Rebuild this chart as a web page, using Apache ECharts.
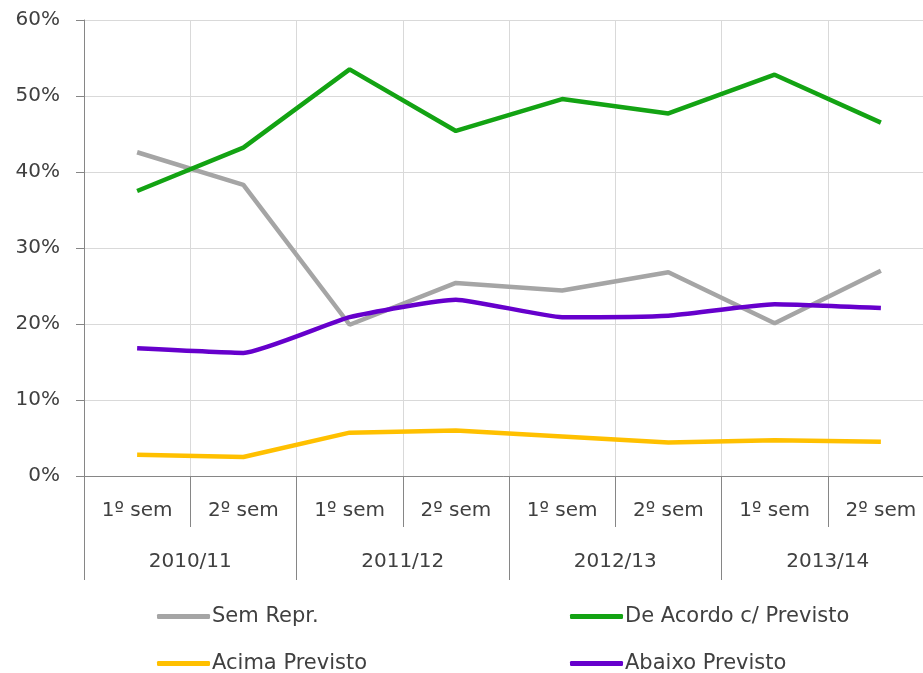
<!DOCTYPE html>
<html>
<head>
<meta charset="utf-8">
<script src="https://cdn.jsdelivr.net/npm/echarts@6/dist/echarts.min.js"></script>
<style>
  html, body { margin: 0; padding: 0; background: #fff; }
  #chart { width: 923px; height: 673px; }
</style>
</head>
<body>
<div id="chart"></div>
<script>
// categories
const semesters = ['1º sem', '2º sem', '1º sem', '2º sem', '1º sem', '2º sem', '1º sem', '2º sem']
const years = ['2010/11', '2011/12', '2012/13', '2013/14']

// values in %
const semRepr = [42.6, 38.3, 19.9, 25.4, 24.4, 26.8, 20.1, 27.0]
const deAcordo = [37.5, 43.2, 53.5, 45.4, 49.6, 47.7, 52.8, 46.5]
const acima = [2.8, 2.5, 5.7, 6.0, 5.2, 4.4, 4.7, 4.5]
const abaixo = [16.8, 16.2, 20.9, 23.2, 20.9, 21.1, 22.6, 22.1]

const textColor = '#404040'
const font = 'DejaVu Sans'

const chart = echarts.init(document.getElementById('chart'))

function legendAt (name, left, top) {
  return {
    data: [name],
    left: left,
    top: top,
    icon: 'roundRect',
    itemWidth: 53,
    itemHeight: 5,
    itemGap: 0,
    textStyle: { color: textColor, fontSize: 21, fontFamily: font, padding: [0, 0, 0, -3] }
  }
}

const option = {
  animation: false,
  grid: { left: 84, top: 20, width: 850, height: 456, outerBoundsMode: 'none' },
  legend: [
    legendAt('Sem Repr.', 152, 601),
    legendAt('De Acordo c/ Previsto', 565, 601),
    legendAt('Acima Previsto', 152, 648),
    legendAt('Abaixo Previsto', 565, 648)
  ],
  xAxis: [
    {
      type: 'category',
      data: semesters,
      boundaryGap: true,
      axisLine: { lineStyle: { color: '#868686', width: 1 } },
      axisTick: { show: true, length: 51, lineStyle: { color: '#868686' } },
      axisLabel: { color: textColor, fontSize: 20, fontFamily: font, margin: 25 },
      splitLine: { show: true, lineStyle: { color: '#D9D9D9', width: 1 } }
    },
    {
      type: 'category',
      data: years,
      position: 'bottom',
      boundaryGap: true,
      axisLine: { show: false },
      axisTick: { show: true, length: 104, lineStyle: { color: '#868686' } },
      axisLabel: { color: textColor, fontSize: 20, fontFamily: font, margin: 76 },
      splitLine: { show: false }
    }
  ],
  yAxis: {
    type: 'value',
    min: 0,
    max: 60,
    interval: 10,
    axisLine: { show: true, lineStyle: { color: '#868686' } },
    axisTick: { show: true, length: 8, lineStyle: { color: '#868686' } },
    axisLabel: {
      color: textColor,
      fontSize: 20,
      fontFamily: font,
      margin: 24,
      formatter: '{value}%'
    },
    splitLine: { lineStyle: { color: '#D9D9D9', width: 1 } }
  },
  series: [
    {
      name: 'Sem Repr.',
      type: 'line',
      data: semRepr,
      symbol: 'none',
      itemStyle: { color: '#A5A5A5' },
      lineStyle: { color: '#A5A5A5', width: 4.5 }
    },
    {
      name: 'De Acordo c/ Previsto',
      type: 'line',
      data: deAcordo,
      symbol: 'none',
      itemStyle: { color: '#13A313' },
      lineStyle: { color: '#13A313', width: 4.5 }
    },
    {
      name: 'Acima Previsto',
      type: 'line',
      data: acima,
      symbol: 'none',
      itemStyle: { color: '#FFC000' },
      lineStyle: { color: '#FFC000', width: 4.5 }
    },
    {
      name: 'Abaixo Previsto',
      type: 'line',
      data: abaixo,
      symbol: 'none',
      smooth: 0.15,
      itemStyle: { color: '#6600CC' },
      lineStyle: { color: '#6600CC', width: 4.5 }
    }
  ]
}

chart.setOption(option)
</script>
</body>
</html>
